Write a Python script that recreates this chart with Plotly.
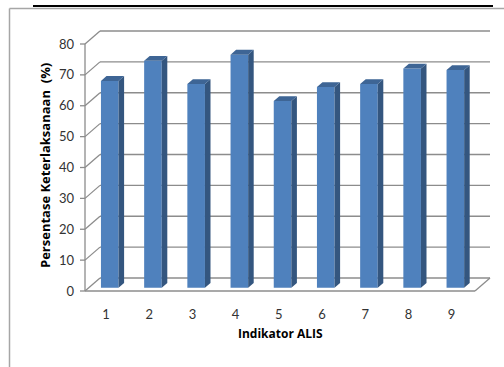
import plotly.graph_objects as go

# --- data -------------------------------------------------------------
indikator = ["1", "2", "3", "4", "5", "6", "7", "8", "9"]
persentase = [67, 73.5, 66, 75.5, 60.5, 65, 66, 71, 70.5]
y_ticks = [0, 10, 20, 30, 40, 50, 60, 70, 80]

# --- page / plot-area geometry (pixels) --------------------------------
W, H = 504, 367
L, R, T, B = 75, 8, 20, 62
PW, PH = W - L - R, H - T - B

CAT_PX = 43.2        # pixels between category centres
VAL_PX = 3.0875      # pixels per percentage point
CAT1_PX = 106        # x pixel of category 1 on the front plane
ZERO_PX = 291        # y pixel of value 0 on the front plane


def xv(px):
    return 1 + (px - CAT1_PX) / CAT_PX


def yv(py):
    return (ZERO_PX - py) / VAL_PX


def xp(px):
    return (px - L) / PW


def yp(py):
    return 1 - (py - T) / PH


# depth of the pseudo-3D box, in data units
DX = 15 / CAT_PX
DY = 13 / VAL_PX
AX_X = xv(85)          # front-left vertical axis
FLOOR_R = xv(475)      # front-right corner of the floor

# bar placement in depth (fraction of box depth)
F0, FD = 0.25, 0.37
BW = 17.6 / CAT_PX

grid_col = "#8c8c8c"
shapes = []


def seg(x0, y0, x1, y1, color=grid_col, width=1.3):
    shapes.append(dict(type="line", xref="x", yref="y", x0=x0, y0=y0, x1=x1, y1=y1,
                       line=dict(color=color, width=width), layer="below"))


for v in y_ticks:
    # back wall gridline
    seg(AX_X + DX, v + DY, FLOOR_R + DX, v + DY)
    # side wall diagonal
    seg(AX_X, v, AX_X + DX, v + DY)
    # tick mark
    seg(xv(80), v, AX_X, v)
seg(AX_X, 0, AX_X, y_ticks[-1])
# floor front edge and right edge
seg(AX_X, 0, FLOOR_R, 0)
seg(FLOOR_R, 0, FLOOR_R + DX, DY)

# outer frame
shapes.append(dict(type="line", xref="paper", yref="paper", x0=xp(33), x1=xp(493),
                   y0=yp(6), y1=yp(6), line=dict(color="black", width=1.8)))
shapes.append(dict(type="line", xref="paper", yref="paper", x0=xp(9.5), x1=xp(520),
                   y0=yp(8.5), y1=yp(8.5), line=dict(color="#a6a6a6", width=1.5)))
shapes.append(dict(type="line", xref="paper", yref="paper", x0=xp(9.5), x1=xp(9.5),
                   y0=yp(8.5), y1=yp(380), line=dict(color="#a6a6a6", width=1.5)))

cats = list(range(1, len(indikator) + 1))
front_x = [c + F0 * DX for c in cats]
base = F0 * DY

fig = go.Figure()

# front faces
fig.add_trace(go.Bar(x=front_x, y=persentase, base=base, width=BW,
                     marker=dict(color="#4f81bd", line=dict(width=0)),
                     hoverinfo="skip", showlegend=False))

# side and top faces
sx, sy, tx, ty = [], [], [], []
ddx, ddy = FD * DX, FD * DY
for c, v in zip(front_x, persentase):
    xl, xr = c - BW / 2, c + BW / 2
    top = base + v
    sx += [xr, xr, xr + ddx, xr + ddx, xr, None]
    sy += [base, top, top + ddy, base + ddy, base, None]
    tx += [xl, xr, xr + ddx, xl + ddx, xl, None]
    ty += [top, top, top + ddy, top + ddy, top, None]

fig.add_trace(go.Scatter(x=sx, y=sy, mode="lines", fill="toself", fillcolor="#34567f",
                         line=dict(width=0, color="#34567f"), hoverinfo="skip", showlegend=False))
fig.add_trace(go.Scatter(x=tx, y=ty, mode="lines", fill="toself", fillcolor="#3e6595",
                         line=dict(width=0, color="#3e6595"), hoverinfo="skip", showlegend=False))

font = "Lato, 'Open Sans', sans-serif"
title_font = "'Open Sans', Lato, sans-serif"

fig.update_layout(
    width=W, height=H,
    margin=dict(l=L, r=R, t=T, b=B, pad=0),
    paper_bgcolor="white", plot_bgcolor="rgba(0,0,0,0)",
    font=dict(family=font, size=13, color="#333333"),
    shapes=shapes,
    showlegend=False,
    xaxis=dict(range=[xv(L), xv(W - R)], tickmode="array", tickvals=cats, ticktext=indikator,
               showgrid=False, zeroline=False, showline=False, ticks="",
               tickfont=dict(size=13, color="#333333")),
    yaxis=dict(range=[yv(T + PH), yv(T)], tickmode="array", tickvals=y_ticks,
               showgrid=False, zeroline=False, showline=False, ticks="",
               tickfont=dict(size=13, color="#333333")),
    annotations=[
        dict(text="<b>Persentase Keterlaksanaan  (%)</b>", xref="paper", yref="paper",
             x=xp(45), y=yp(166), textangle=-90, showarrow=False,
             font=dict(family=title_font, size=13, color="black"),
             xanchor="center", yanchor="middle"),
        dict(text="<b>Indikator ALIS</b>", xref="paper", yref="paper",
             x=xp(280), y=yp(333), showarrow=False,
             font=dict(family=title_font, size=12, color="black"),
             xanchor="center", yanchor="middle"),
    ],
)

fig.write_html("out.html")
